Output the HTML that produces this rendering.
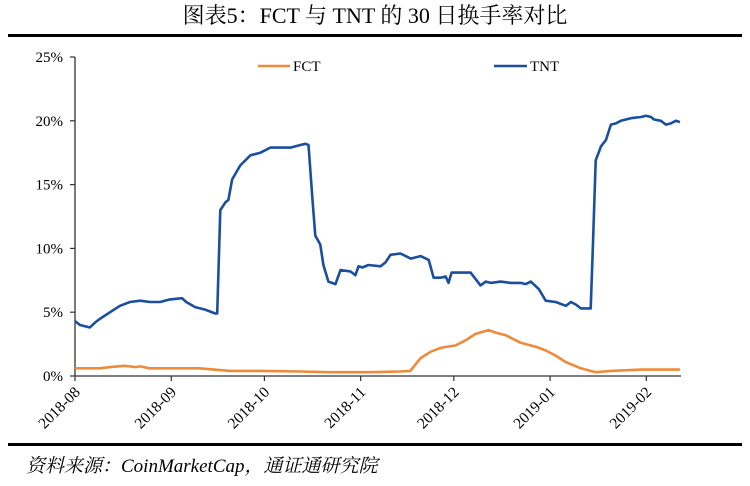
<!DOCTYPE html>
<html><head><meta charset="utf-8"><style>
body{margin:0;background:#fff;width:750px;height:481px;overflow:hidden}
svg text{font-family:"Liberation Serif","Noto Serif CJK SC",serif}
</style></head><body>
<svg width="750" height="481" xmlns="http://www.w3.org/2000/svg">
<text x="375" y="23" text-anchor="middle" font-size="22">图表5：FCT 与 TNT 的 30 日换手率对比</text>
<rect x="8" y="34" width="734" height="3" fill="#000"/>
<rect x="8" y="443" width="734" height="3" fill="#000"/>
<text x="26" y="472" font-size="19" font-style="italic">资料来源：CoinMarketCap，通证通研究院</text>
<g id="axes"></g>
<g id="series"></g>
<g>
<line x1="258" y1="66" x2="290" y2="66" stroke="#ED8B3A" stroke-width="2.5"/>
<text x="293" y="71" font-size="15">FCT</text>
<line x1="494" y1="66" x2="527" y2="66" stroke="#1A4FA0" stroke-width="2.5"/>
<text x="530" y="71" font-size="15">TNT</text>
</g>
</svg>
<script>
const xTickLabels=["2018-08","2018-09","2018-10","2018-11","2018-12","2019-01","2019-02"];
const xTickDays=[0,31,61,92,122,153,184];
const yTicks=[0,5,10,15,20,25];
const tntDays=[0,1.6,4.8,6.5,8.1,11.3,14.5,17.7,21,24.2,27.4,30.6,34.5,35.8,38.7,41.9,45.2,45.8,46.8,48.4,49.4,50.6,53.2,56.5,59.7,62.9,66.1,69.4,72.6,74.2,75.2,76.5,77.4,79,80,81.6,83.9,85.5,88.7,90.3,91.3,92.6,94.5,98.4,100,101.6,104.8,108.1,111.3,113.9,115.5,117.7,119.4,120.3,121.3,122.6,127.4,130.6,132.3,133.9,137.1,140.3,143.5,145.2,146.8,149.4,151.6,154.8,158.1,159.7,161.3,162.9,164.5,166.1,166.8,167.7,169.4,171,172.6,174.2,175.8,177.4,179,182.3,183.9,185.5,186.5,188.7,190.3,191.9,193.5,194.8];
const tntValues=[4.3,4.0,3.8,4.2,4.5,5.0,5.5,5.8,5.9,5.8,5.8,6.0,6.1,5.8,5.4,5.2,4.9,4.9,13.0,13.6,13.8,15.4,16.5,17.3,17.5,17.9,17.9,17.9,18.1,18.2,18.1,13.8,11.0,10.3,8.7,7.4,7.2,8.3,8.2,7.9,8.6,8.5,8.7,8.6,8.9,9.5,9.6,9.2,9.4,9.1,7.7,7.7,7.8,7.3,8.1,8.1,8.1,7.1,7.4,7.3,7.4,7.3,7.3,7.2,7.4,6.8,5.9,5.8,5.5,5.8,5.6,5.3,5.3,5.3,10.2,16.9,18.0,18.5,19.7,19.8,20.0,20.1,20.2,20.3,20.4,20.3,20.1,20.0,19.7,19.8,20.0,19.9];
const fctDays=[0,8,11.3,16,19.4,21,24,34,40,50,60,72.6,82,95,104.8,108,111.3,114.5,117.7,122.6,125.8,129,133.2,135.5,138.7,143.5,148.4,151.6,154.8,158,162.9,167.7,172.6,182.3,194.8];
const fctValues=[0.6,0.6,0.7,0.8,0.7,0.75,0.6,0.6,0.6,0.4,0.4,0.35,0.3,0.3,0.35,0.4,1.4,1.9,2.2,2.4,2.8,3.3,3.6,3.4,3.2,2.6,2.3,2.0,1.6,1.1,0.6,0.3,0.4,0.5,0.5];
const NS="http://www.w3.org/2000/svg";
const X0=75,PX_PER_DAY=3.105,Y0=376,PX_PER_PCT=12.76;
function xs(d){return X0+d*PX_PER_DAY;}
function ys(v){return Y0-v*PX_PER_PCT;}
function mk(t,a,p){const e=document.createElementNS(NS,t);for(const k in a)e.setAttribute(k,a[k]);p.appendChild(e);return e;}
const ax=document.getElementById('axes');
const ya=mk('line',{x1:X0,y1:ys(25),x2:X0,y2:Y0,stroke:'#333','stroke-width':1.3},ax);


const xa=mk('line',{x1:X0,y1:Y0,x2:681,y2:Y0,stroke:'#333','stroke-width':1.3},ax);


yTicks.forEach(v=>{
  const y=ys(v);
  const tk=mk('line',{x1:X0-5,y1:y,x2:X0,y2:y,stroke:'#333','stroke-width':1.2},ax);
  
  
  const t=mk('text',{x:X0-12,y:y+5,'text-anchor':'end','font-size':15},ax);
  t.textContent=v+'%';
  
  
});
xTickDays.forEach((d,i)=>{
  const x=xs(d);
  const tk=mk('line',{x1:x,y1:Y0,x2:x,y2:Y0+5,stroke:'#333','stroke-width':1.2},ax);
  
  
  const t=mk('text',{x:x+6,y:Y0+17,'text-anchor':'end','font-size':15.5,transform:`rotate(-45 ${x+6} ${Y0+17})`},ax);
  t.textContent=xTickLabels[i];
  
  
});
const sg=document.getElementById('series');
function line(days,vals,color,name){
  const d=days.map((dd,i)=>(i?'L':'M')+xs(dd).toFixed(1)+','+ys(vals[i]).toFixed(1)).join('');
  const p=mk('path',{d:d,fill:'none',stroke:color,'stroke-width':2.6,'stroke-linejoin':'round'},sg);
  
  
}
line(fctDays,fctValues,'#ED8B3A','fct-line');
line(tntDays,tntValues,'#1A4FA0','tnt-line');
</script>
</body></html>
